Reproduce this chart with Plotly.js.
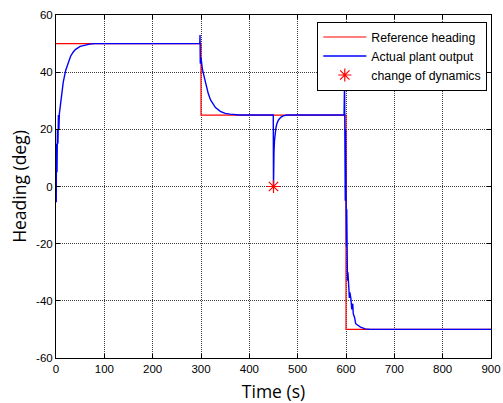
<!DOCTYPE html>
<html>
<head>
<meta charset="utf-8">
<script src="https://cdn.plot.ly/plotly-3.0.1.min.js"></script>
<style>
html,body{margin:0;padding:0;background:#fff;}
#chart{width:503px;height:403px;}
</style>
</head>
<body>
<div id="chart"></div>
<script>
// Reference heading (step commands)
var refT = [0, 300, 300, 600, 600, 900];
var refY = [50, 50, 25, 25, -50, -50];

// Actual plant output
var outT = [0, 0.5, 1, 2, 3, 4, 5, 6, 7, 10, 15, 20, 25, 30, 35, 40, 50, 60, 70, 80,
  297.5, 298, 298.5, 299, 299.5, 300, 301, 302, 303, 305, 310, 315, 320, 325, 330, 340, 350, 360, 370, 380,
  449.5, 450, 450.5, 451, 452, 453, 455, 457, 460, 465, 470, 478,
  596, 597, 597.5, 598, 598.5, 599, 599.5, 600, 601, 601.5, 602, 603, 604, 605, 607, 608, 610, 612, 614, 615, 618, 620, 625, 630, 640, 650, 900];
var outY = [0, -5.5, 15, 5, 20, 15, 25, 20, 25.5, 30.4, 36.5, 40.6, 43.5, 45.5, 46.9, 47.9, 49.0, 49.5, 49.8, 50,
  50, 53, 43, 49, 44, 45, 43, 41, 41, 39.5, 36, 32.5, 30.2, 28.7, 27.6, 26.3, 25.6, 25.3, 25.1, 25,
  25, 0, 10, 12, 16, 18.5, 20.5, 22, 23.2, 24.2, 24.7, 25,
  25, 36, 10, 30, -5, 20, -15, -21, -21, -8, -21, -33, -30, -33, -39, -37, -39, -43, -41, -44.5, -46, -48, -48.5, -49.2, -49.8, -50, -50];

// Change of dynamics marker
var chgT = [450];
var chgY = [0];

var names = ["Reference heading", "Actual plant output", "change of dynamics"];
var xTicks = [0, 100, 200, 300, 400, 500, 600, 700, 800, 900];
var yTicks = [-60, -40, -20, 0, 20, 40, 60];

var traces = [
  {x: refT, y: refY, type: 'scatter', mode: 'lines', name: names[0],
   line: {color: '#ff0000', width: 1.2}},
  {x: outT, y: outY, type: 'scatter', mode: 'lines', name: names[1],
   line: {color: '#0000ff', width: 1.4}},
  {x: chgT, y: chgY, type: 'scatter', mode: 'markers', name: names[2],
   marker: {symbol: 'asterisk-open', size: 11, color: '#ff0000', line: {color: '#ff0000', width: 1.2}}}
];

var axisCommon = {
  showline: true, linecolor: '#000', linewidth: 1, mirror: 'ticks',
  ticks: 'inside', ticklen: 4, tickcolor: '#000', tickwidth: 1,
  showgrid: true, gridcolor: '#3c3c3c', griddash: '1px,1px', gridwidth: 1,
  zeroline: false,
  tickfont: {family: 'Liberation Sans, Arial, sans-serif', size: 11.5, color: '#000'}
};

var layout = {
  width: 503, height: 403,
  margin: {l: 56, r: 12, t: 15, b: 45, pad: 0},
  paper_bgcolor: '#fff', plot_bgcolor: '#fff',
  showlegend: true,
  legend: {
    x: 0.9915, xanchor: 'right', y: 0.981, yanchor: 'top',
    bgcolor: '#fff', bordercolor: '#000', borderwidth: 1,
    itemwidth: 43,
    font: {family: 'Liberation Sans, Arial, sans-serif', size: 12.3, color: '#000'}
  },
  xaxis: Object.assign({}, axisCommon, {
    range: [0, 900], tickvals: xTicks, ticktext: xTicks.map(String),
    title: {text: 'Time (s)', font: {family: 'Open Sans, sans-serif', size: 17.5, color: '#000'}, standoff: 11}
  }),
  yaxis: Object.assign({}, axisCommon, {
    range: [-60, 60], tickvals: yTicks, ticktext: yTicks.map(String),
    title: {text: 'Heading (deg)', font: {family: 'Open Sans, sans-serif', size: 17.5, color: '#000'}, standoff: 4}
  })
};

Plotly.newPlot('chart', traces, layout, {displayModeBar: false, staticPlot: true});
</script>
</body>
</html>
